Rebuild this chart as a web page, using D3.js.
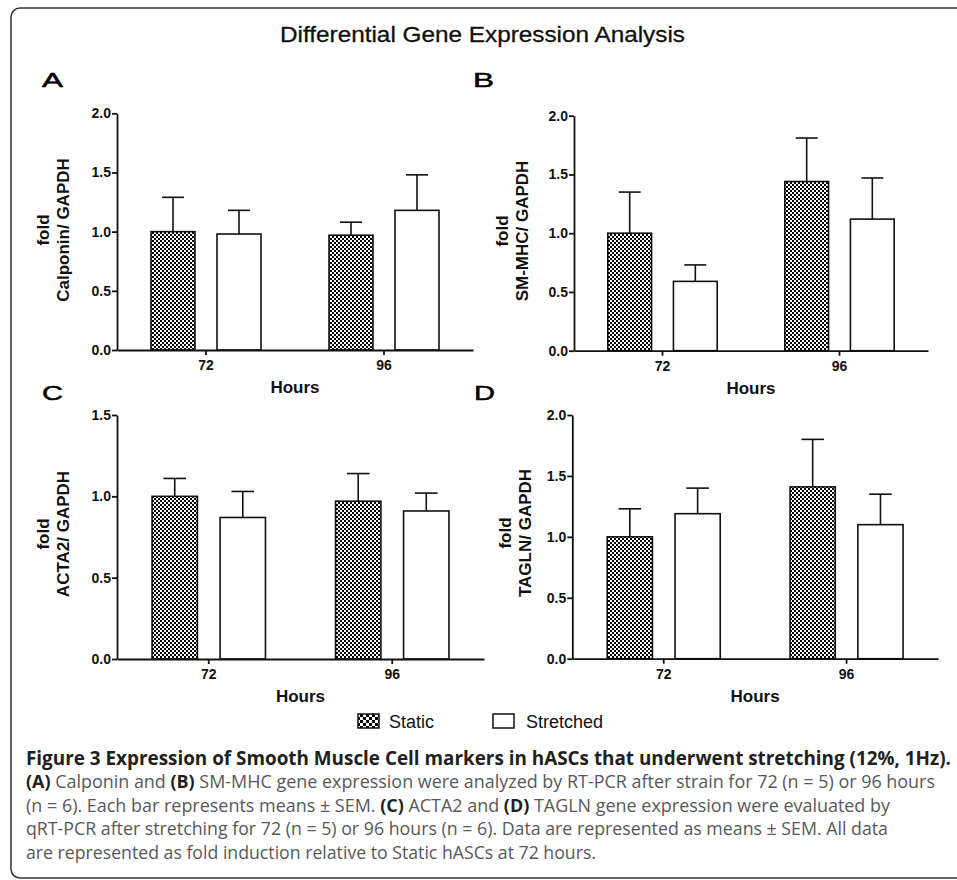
<!DOCTYPE html>
<html><head><meta charset="utf-8">
<script src="https://cdn.jsdelivr.net/npm/d3@7/dist/d3.min.js"></script>
<style>
html,body{margin:0;padding:0;background:#fff;}
svg{display:block;}
</style></head>
<body>
<svg id="chart" width="957" height="880"></svg>
<script>
// ---------- data ----------
const hours = ["72", "96"];
const groups = ["Static", "Stretched"];
const genes = ["Calponin", "SM-MHC", "ACTA2", "TAGLN"];
const panelLetters = ["A", "B", "C", "D"];
const yMaxes = [2.0, 2.0, 1.5, 2.0];
const ticksTo2 = [0, 0.5, 1.0, 1.5, 2.0];
const ticksTo15 = [0, 0.5, 1.0, 1.5];

const calponinStatic = [1.00, 0.97];
const calponinStaticSem = [0.29, 0.11];
const calponinStretched = [0.98, 1.18];
const calponinStretchedSem = [0.20, 0.30];

const smmhcStatic = [1.00, 1.44];
const smmhcStaticSem = [0.35, 0.37];
const smmhcStretched = [0.59, 1.12];
const smmhcStretchedSem = [0.14, 0.35];

const acta2Static = [1.00, 0.97];
const acta2StaticSem = [0.11, 0.17];
const acta2Stretched = [0.87, 0.91];
const acta2StretchedSem = [0.16, 0.11];

const taglnStatic = [1.00, 1.41];
const taglnStaticSem = [0.23, 0.39];
const taglnStretched = [1.19, 1.10];
const taglnStretchedSem = [0.21, 0.25];

const titleText = "Differential Gene Expression Analysis";
const xTitle = "Hours";
const yTitleTop = "fold";

const captionLines = [
  [["Figure 3 Expression of Smooth Muscle Cell markers in hASCs that underwent stretching (12%, 1Hz).", true]],
  [["(A)", true], [" Calponin and ", false], ["(B)", true], [" SM-MHC gene expression were analyzed by RT-PCR after strain for 72 (n = 5) or 96 hours", false]],
  [["(n = 6). Each bar represents means ± SEM. ", false], ["(C)", true], [" ACTA2 and ", false], ["(D)", true], [" TAGLN gene expression were evaluated by", false]],
  [["qRT-PCR after stretching for 72 (n = 5) or 96 hours (n = 6). Data are represented as means ± SEM. All data", false]],
  [["are represented as fold induction relative to Static hASCs at 72 hours.", false]]
];

// ---------- layout (pixels) ----------
const layout = [
  {letterX: 42, letterY: 87, x0: 117, x1: 473, yTop: 113.3, yBase: 350, foldDx: -74, labelCy: 230},
  {letterX: 473, letterY: 87, x0: 574, x1: 928, yTop: 115.7, yBase: 350.7, foldDx: -72, labelCy: 231},
  {letterX: 42, letterY: 400, x0: 117, x1: 484, yTop: 415, yBase: 659, foldDx: -74, labelCy: 534},
  {letterX: 474, letterY: 400, x0: 572.3, x1: 938, yTop: 415, yBase: 658.7, foldDx: -67, labelCy: 533}
];
const captionEnds = [951, 935, 890, 888, 596];

// ---------- build ----------
const panelData = [
  [calponinStatic, calponinStaticSem, calponinStretched, calponinStretchedSem],
  [smmhcStatic, smmhcStaticSem, smmhcStretched, smmhcStretchedSem],
  [acta2Static, acta2StaticSem, acta2Stretched, acta2StretchedSem],
  [taglnStatic, taglnStaticSem, taglnStretched, taglnStretchedSem]
].map(([sM, sS, tM, tS], i) => ({
  gene: genes[i],
  letter: panelLetters[i],
  yMax: yMaxes[i],
  ticks: yMaxes[i] === 2.0 ? ticksTo2 : ticksTo15,
  bars: hours.flatMap((h, j) => [
    {hour: h, group: groups[0], mean: sM[j], sem: sS[j]},
    {hour: h, group: groups[1], mean: tM[j], sem: tS[j]}
  ])
}));

const svg = d3.select("#chart");
const chartFont = "'Liberation Sans', Arial, sans-serif";
const capFont = "'Open Sans', 'Noto Sans', sans-serif";

const defs = svg.append("defs");
function checker(id, c) {
  const pat = defs.append("pattern").attr("id", id)
    .attr("width", 2 * c).attr("height", 2 * c).attr("patternUnits", "userSpaceOnUse");
  pat.append("rect").attr("width", 2 * c).attr("height", 2 * c).attr("fill", "#fff");
  pat.append("rect").attr("width", c).attr("height", c).attr("fill", "#000");
  pat.append("rect").attr("x", c).attr("y", c).attr("width", c).attr("height", c).attr("fill", "#000");
}
checker("checker", 2);
checker("checkerLegend", 3);
const fillFor = (g, legend) => g === "Static" ? (legend ? "url(#checkerLegend)" : "url(#checker)") : "#fff";

// frame
svg.append("rect").attr("x", 11).attr("y", 8).attr("width", 965).attr("height", 870)
  .attr("rx", 9).attr("fill", "none").attr("stroke", "#333").attr("stroke-width", 1.5);

// title
svg.append("text").attr("x", 280).attr("y", 42)
  .attr("font-family", chartFont).attr("font-size", 22).attr("fill", "#111")
  .attr("stroke", "#111").attr("stroke-width", 0.3)
  .attr("textLength", 405).attr("lengthAdjust", "spacingAndGlyphs")
  .text(titleText);

panelData.forEach((p, i) => {
  const L = layout[i];
  const g = svg.append("g");

  const x = d3.scaleBand().domain(hours).range([L.x0, L.x1])
    .paddingInner(0.382).paddingOuter(0.191);
  const xs = d3.scaleBand().domain(groups).range([0, x.bandwidth()])
    .paddingInner(1 / 3).paddingOuter(0);
  const y = d3.scaleLinear().domain([0, p.yMax]).range([L.yBase, L.yTop]);

  // panel letter
  g.append("text").attr("x", L.letterX).attr("y", L.letterY)
    .attr("font-family", chartFont).attr("font-size", 21).attr("fill", "#000")
    .attr("stroke", "#000").attr("stroke-width", 0.5)
    .attr("textLength", 21).attr("lengthAdjust", "spacingAndGlyphs")
    .text(p.letter);

  // error bars
  const eb = g.append("g").attr("stroke", "#111").attr("stroke-width", 1.6).attr("fill", "none");
  p.bars.forEach(b => {
    const cx = x(b.hour) + xs(b.group) + xs.bandwidth() / 2;
    const half = xs.bandwidth() / 4;
    eb.append("line").attr("x1", cx).attr("x2", cx).attr("y1", y(b.mean)).attr("y2", y(b.mean + b.sem));
    eb.append("line").attr("x1", cx - half).attr("x2", cx + half).attr("y1", y(b.mean + b.sem)).attr("y2", y(b.mean + b.sem));
  });

  // bars
  g.append("g").selectAll("rect").data(p.bars).join("rect")
    .attr("x", d => x(d.hour) + xs(d.group))
    .attr("width", xs.bandwidth())
    .attr("y", d => y(d.mean))
    .attr("height", d => y(0) - y(d.mean))
    .attr("fill", d => fillFor(d.group, false))
    .attr("stroke", "#111").attr("stroke-width", 1.6);

  // axes
  const yAxis = d3.axisLeft(y).tickValues(p.ticks).tickFormat(d3.format(".1f"))
    .tickSize(5).tickSizeOuter(0).tickPadding(1);
  const ya = g.append("g").attr("transform", `translate(${L.x0},0)`).call(yAxis);
  const xAxis = d3.axisBottom(x).tickSize(5).tickSizeOuter(0).tickPadding(5);
  const xa = g.append("g").attr("transform", `translate(0,${L.yBase})`).call(xAxis);
  [ya, xa].forEach(a => {
    a.selectAll("path,line").attr("stroke", "#111").attr("stroke-width", 1.8);
    a.selectAll("text").attr("font-family", chartFont).attr("font-size", 14)
      .attr("font-weight", "bold").attr("fill", "#111");
  });

  // x title
  g.append("text").attr("x", (L.x0 + L.x1) / 2).attr("y", L.yBase + 43)
    .attr("text-anchor", "middle").attr("font-family", chartFont)
    .attr("font-size", 17).attr("font-weight", "bold").attr("fill", "#111")
    .text(xTitle);

  // y title (two lines)
  [yTitleTop, p.gene + "/ GAPDH"].forEach((t, k) => {
    g.append("text")
      .attr("transform", `translate(${L.x0 + L.foldDx + k * 20},${L.labelCy}) rotate(-90)`)
      .attr("dy", "0.35em").attr("text-anchor", "middle")
      .attr("font-family", chartFont).attr("font-size", 17).attr("font-weight", "bold")
      .attr("fill", "#111").text(t);
  });
});

// legend
const legendPos = [{x: 358, tx: 389}, {x: 493, tx: 526}];
const lg = svg.append("g");
groups.forEach((grp, i) => {
  lg.append("rect").attr("x", legendPos[i].x).attr("y", 714).attr("width", 21).attr("height", 14)
    .attr("fill", fillFor(grp, true)).attr("stroke", "#111").attr("stroke-width", 1.5);
  lg.append("text").attr("x", legendPos[i].tx).attr("y", 727.5)
    .attr("font-family", chartFont).attr("font-size", 18).attr("fill", "#111").text(grp);
});

// caption
const capG = svg.append("g");
const capX = 26;
const lineY0 = 765, lineStep = 23.4;
function makeLine(segs, yPos, size) {
  const t = capG.append("text").attr("x", capX).attr("y", yPos)
    .attr("font-family", capFont).attr("font-size", size);
  segs.forEach(([s, b]) => {
    t.append("tspan").attr("font-weight", b ? "bold" : "normal")
      .attr("fill", b ? "#231f20" : "#58585a").text(s);
  });
  return t;
}
// fit sizes
const probe1 = makeLine(captionLines[0], -100, 16);
const size1 = 16 * (captionEnds[0] - capX) / probe1.node().getComputedTextLength();
probe1.remove();
const probe2 = makeLine(captionLines[1], -100, 16);
const size2 = 16 * (captionEnds[1] - capX) / probe2.node().getComputedTextLength();
probe2.remove();
captionLines.forEach((segs, i) => {
  const t = makeLine(segs, lineY0 + i * lineStep, i === 0 ? size1 : size2);
  t.attr("textLength", captionEnds[i] - capX).attr("lengthAdjust", "spacingAndGlyphs");
});
</script>
</body></html>
